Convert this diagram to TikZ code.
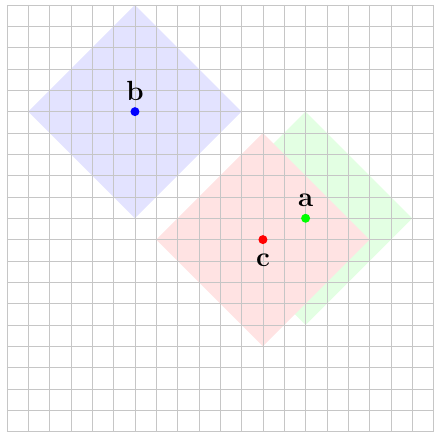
\documentclass[tikz,border=0pt]{standalone}
\usepackage{fontspec}
\usetikzlibrary{calc}
\tikzset{
  gridline/.style={draw=gray!45, line width=0.5pt},
  bluesq/.style={fill=blue!11},
  redsq/.style={fill=red!11},
  greensq/.style={fill=green!11},
  dot/.style={circle, inner sep=0pt, minimum size=6pt},
  lbl/.style={font=\fontsize{18.5}{22}\selectfont\bfseries, inner sep=0pt, anchor=base}
}
\begin{document}
\begin{tikzpicture}[x=0.5cm,y=-0.5cm]
\useasboundingbox (-0.328,-0.234) rectangle (20.02,20.06);
% squares
\fill[bluesq] (6,0) -- (11,5) -- (6,10) -- (1,5) -- cycle;
\fill[greensq] (14,5) -- (19,10) -- (14,15) -- (9,10) -- cycle;
\fill[redsq] (12,6) -- (17,11) -- (12,16) -- (7,11) -- cycle;
% grid
\foreach \i in {0,...,20} {
  \draw[gridline] (\i,0) -- (\i,20);
  \draw[gridline] (0,\i) -- (20.5,\i);
}
% points
\node[dot, fill=blue] (b) at (6,5) {};
\node[dot, fill=green] (a) at (14,10) {};
\node[dot, fill=red] (c) at (12,11) {};
\node[lbl] (bl) at (6,4.47) {b};
\node[lbl] (al) at (14,9.47) {a};
\node[lbl] (cl) at (12,12.25) {c};
\end{tikzpicture}
\end{document}
